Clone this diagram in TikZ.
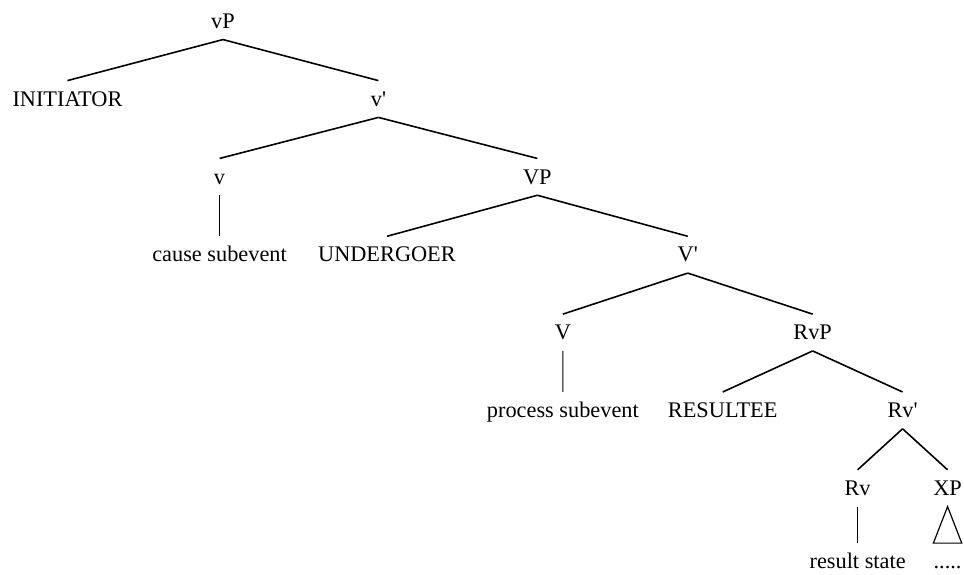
\documentclass[tikz,border=0pt]{standalone}
\usepackage{fontspec}
\setmainfont{Liberation Serif}
\begin{document}
\begin{tikzpicture}[
    level distance=20.6mm,
    level 1/.style={sibling distance=82.3mm},
    level 2/.style={sibling distance=84.1mm},
    level 3/.style={sibling distance=79.6mm},
    level 4/.style={sibling distance=66.1mm},
    level 5/.style={sibling distance=47.6mm},
    level 6/.style={sibling distance=23.8mm},
    level 7/.style={level distance=19.4mm},
    every node/.style={font=\fontsize{16.8}{19}\selectfont, text height=3.8mm, text depth=0pt, inner xsep=1pt, inner ysep=2.9mm},
    edge from parent path={(\tikzparentnode.south) -- (\tikzchildnode.north)},
    edge from parent/.style={draw, line width=1.2pt},
    stem/.style={line width=0.75pt},
    roof/.style={line width=0.9pt, edge from parent path={(\tikzparentnode.south) -- (\tikzchildnode.north east) -- (\tikzchildnode.north west) -- cycle}}
]
\useasboundingbox (0,0) rectangle (255.1mm,-151.9mm);
\node (vP) at (59mm,-5.6mm) {vP}
    child {node (initiator) {INITIATOR}}
    child {node (vbar) {v\textquotesingle}
        child {node (v) {v}
            child {node (cause) {cause subevent} edge from parent[stem]}
        }
        child {node (VP) {VP}
            child {node (undergoer) {UNDERGOER}}
            child {node (Vbar) {V\textquotesingle}
                child {node (V) {V}
                    child {node (process) {process subevent} edge from parent[stem]}
                }
                child {node (RvP) {RvP}
                    child {node (resultee) {RESULTEE}}
                    child {node (Rvbar) {Rv\textquotesingle}
                        child {node (Rv) {Rv}
                            child {node (result) {result state} edge from parent[stem]}
                        }
                        child {node (XP) {XP}
                            child {node[inner xsep=0pt] (dots) {.....} edge from parent[roof]}
                        }
                    }
                }
            }
        }
    };
\end{tikzpicture}
\end{document}
